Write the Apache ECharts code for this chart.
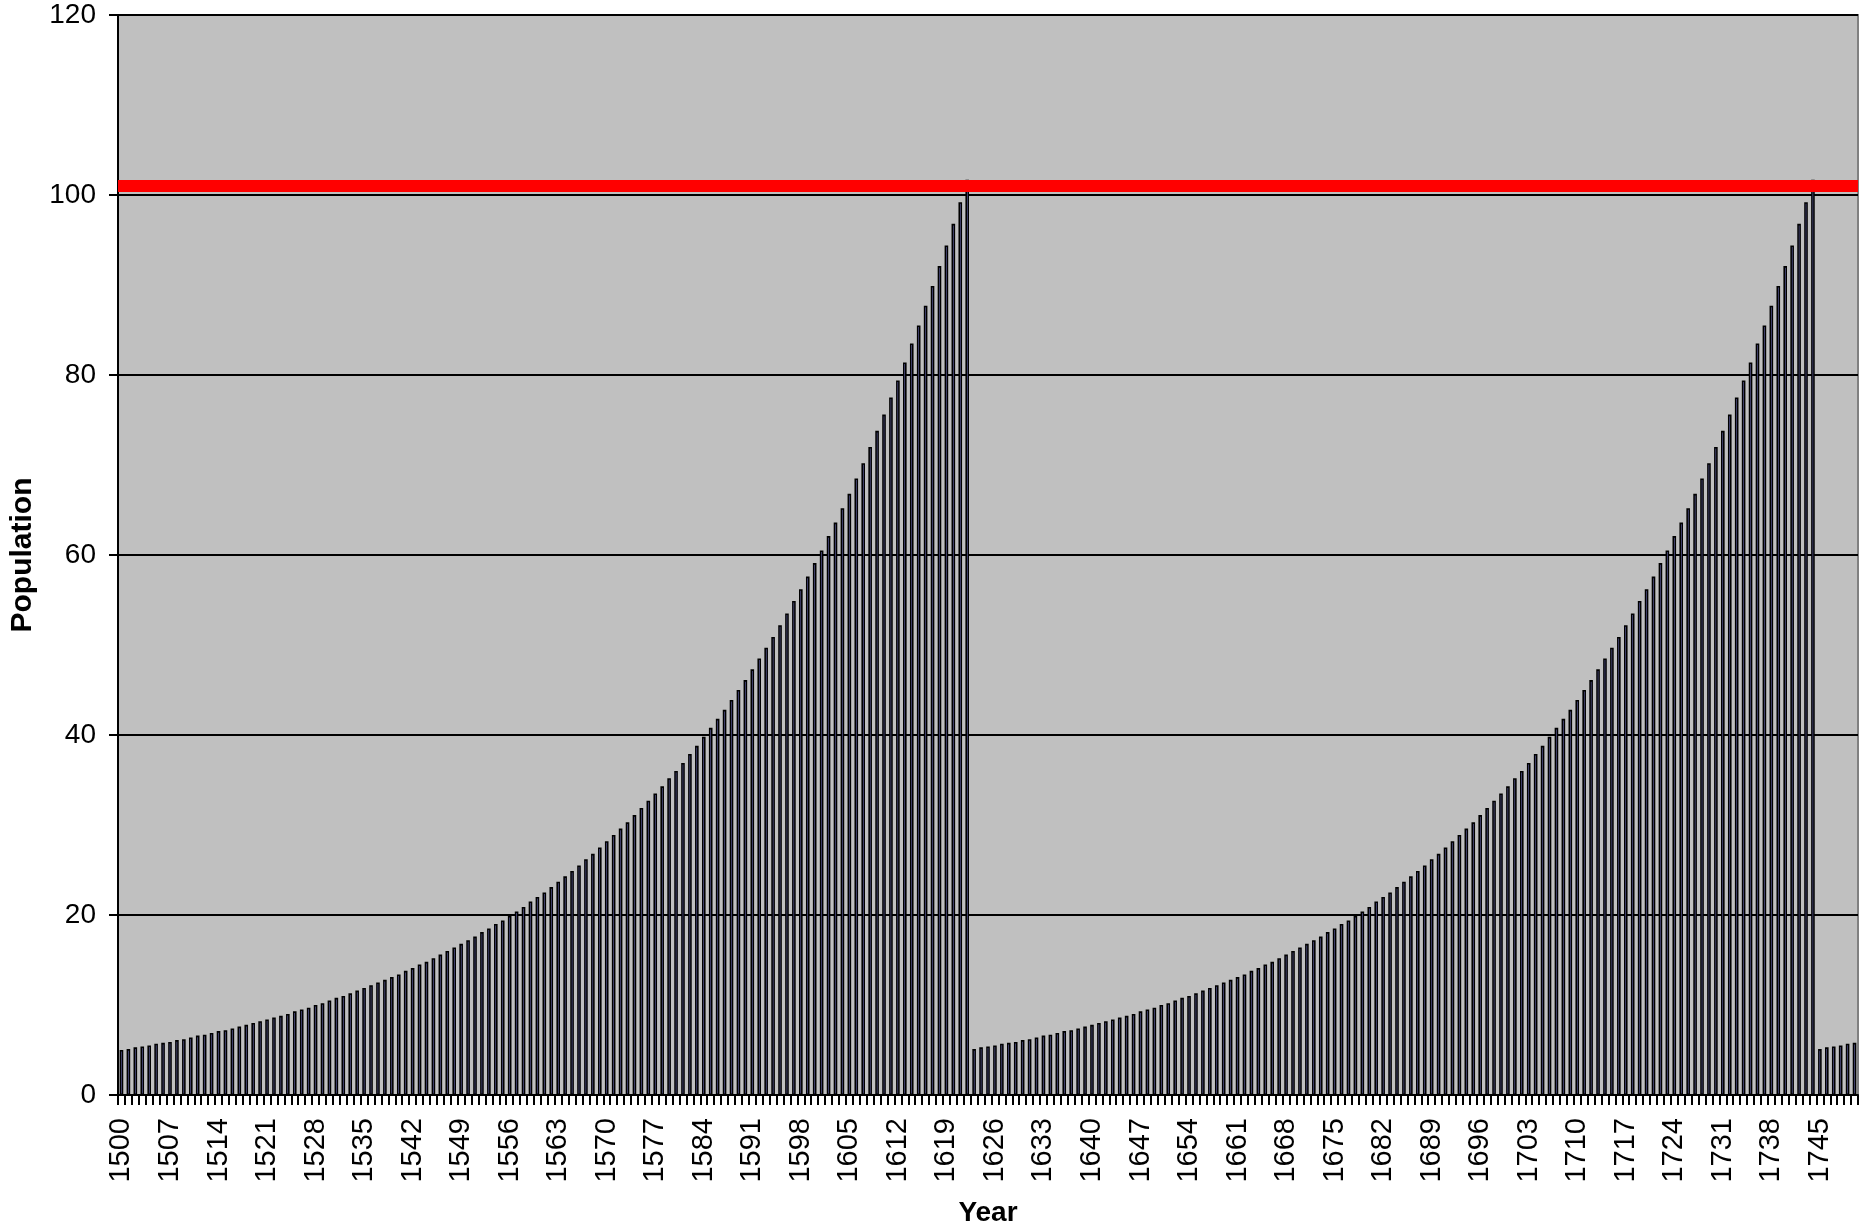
<!DOCTYPE html>
<html>
<head>
<meta charset="utf-8">
<title>Population</title>
<script src="https://cdn.jsdelivr.net/npm/echarts@6/dist/echarts.min.js"></script>
<style>
  html, body { margin: 0; padding: 0; background: #ffffff; }
  #chart { width: 1864px; height: 1232px; }
</style>
</head>
<body>
<div id="chart"></div>
<script>
// ---- Data ----
const firstYear = 1500;
const lastYear = 1750;

// 1500 – 1622 : first growth cycle
const cycle1 = [
  5.0, 5.1, 5.3, 5.4, 5.5, 5.7, 5.8, 5.9, 6.1, 6.2,
  6.4, 6.6, 6.7, 6.9, 7.1, 7.2, 7.4, 7.6, 7.8, 8.0,
  8.2, 8.4, 8.6, 8.8, 9.0, 9.3, 9.5, 9.7, 10.0, 10.2,
  10.5, 10.8, 11.0, 11.3, 11.6, 11.9, 12.2, 12.5, 12.8, 13.1,
  13.4, 13.8, 14.1, 14.5, 14.8, 15.2, 15.6, 16.0, 16.4, 16.8,
  17.2, 17.6, 18.1, 18.5, 19.0, 19.4, 19.9, 20.4, 20.9, 21.5,
  22.0, 22.5, 23.1, 23.7, 24.3, 24.9, 25.5, 26.2, 26.8, 27.5,
  28.2, 28.9, 29.6, 30.3, 31.1, 31.9, 32.7, 33.5, 34.3, 35.2,
  36.0, 36.9, 37.9, 38.8, 39.8, 40.8, 41.8, 42.8, 43.9, 45.0,
  46.1, 47.3, 48.5, 49.7, 50.9, 52.2, 53.5, 54.9, 56.2, 57.6,
  59.1, 60.5, 62.1, 63.6, 65.2, 66.8, 68.5, 70.2, 72.0, 73.8,
  75.6, 77.5, 79.4, 81.4, 83.5, 85.5, 87.7, 89.9, 92.1, 94.4,
  96.8, 99.2, 101.7
];

// 1623 – 1744 : second growth cycle
const cycle2 = [
  5.1, 5.3, 5.4, 5.5, 5.7, 5.8, 5.9, 6.1, 6.2,
  6.4, 6.6, 6.7, 6.9, 7.1, 7.2, 7.4, 7.6, 7.8, 8.0,
  8.2, 8.4, 8.6, 8.8, 9.0, 9.3, 9.5, 9.7, 10.0, 10.2,
  10.5, 10.8, 11.0, 11.3, 11.6, 11.9, 12.2, 12.5, 12.8, 13.1,
  13.4, 13.8, 14.1, 14.5, 14.8, 15.2, 15.6, 16.0, 16.4, 16.8,
  17.2, 17.6, 18.1, 18.5, 19.0, 19.4, 19.9, 20.4, 20.9, 21.5,
  22.0, 22.5, 23.1, 23.7, 24.3, 24.9, 25.5, 26.2, 26.8, 27.5,
  28.2, 28.9, 29.6, 30.3, 31.1, 31.9, 32.7, 33.5, 34.3, 35.2,
  36.0, 36.9, 37.9, 38.8, 39.8, 40.8, 41.8, 42.8, 43.9, 45.0,
  46.1, 47.3, 48.5, 49.7, 50.9, 52.2, 53.5, 54.9, 56.2, 57.6,
  59.1, 60.5, 62.1, 63.6, 65.2, 66.8, 68.5, 70.2, 72.0, 73.8,
  75.6, 77.5, 79.4, 81.4, 83.5, 85.5, 87.7, 89.9, 92.1, 94.4,
  96.8, 99.2, 101.7
];

// 1745 – 1750 : start of third cycle
const cycle3 = [5.1, 5.3, 5.4, 5.5, 5.7, 5.8];

// Red limit line
const limitValue = 101;

// Y axis ticks
const yMin = 0, yMax = 120, yStep = 20;

// ---- Build ----
const years = [];
for (let y = firstYear; y <= lastYear; y++) years.push(String(y));
const population = cycle1.concat(cycle2, cycle3);

const FONT = '"Liberation Sans", Arial, sans-serif';

const chart = echarts.init(document.getElementById('chart'), null, { renderer: 'canvas' });
chart.setOption({
  animation: false,
  backgroundColor: '#ffffff',
  grid: {
    left: 117, top: 15, right: 6, bottom: 137,
    show: true,
    backgroundColor: '#C0C0C0',
    borderColor: '#808080',
    borderWidth: 2
  },
  xAxis: {
    type: 'category',
    data: years,
    boundaryGap: true,
    name: 'Year',
    nameLocation: 'middle',
    nameGap: 104,
    nameTextStyle: { fontFamily: FONT, fontSize: 28, fontWeight: 'bold', color: '#000' },
    axisLine: { show: true, lineStyle: { color: '#000', width: 2 } },
    axisTick: { show: true, interval: 0, length: 10, lineStyle: { color: '#000', width: 2 } },
    axisLabel: {
      interval: 6, rotate: 90, margin: 23,
      fontFamily: FONT, fontSize: 29, color: '#000'
    },
    splitLine: { show: false }
  },
  yAxis: {
    type: 'value',
    min: yMin, max: yMax, interval: yStep,
    name: 'Population',
    nameLocation: 'middle',
    nameRotate: 90,
    nameGap: 80,
    nameTextStyle: { fontFamily: FONT, fontSize: 30, fontWeight: 'bold', color: '#000' },
    axisLine: { show: true, lineStyle: { color: '#000', width: 2 } },
    axisTick: { show: true, length: 9, lineStyle: { color: '#000', width: 2 } },
    axisLabel: { margin: 22, fontFamily: FONT, fontSize: 28, color: '#000' },
    splitLine: { show: true, lineStyle: { color: '#000', width: 2 } }
  },
  series: [{
    type: 'bar',
    data: population,
    barWidth: 3.6,
    itemStyle: { color: '#9999FF', borderColor: '#000', borderWidth: 1.6 },
    markLine: {
      silent: true,
      symbol: ['none', 'none'],
      label: { show: false },
      lineStyle: { color: '#FF0000', width: 12, type: 'solid' },
      data: [{ yAxis: limitValue }]
    }
  }]
});
</script>
</body>
</html>
